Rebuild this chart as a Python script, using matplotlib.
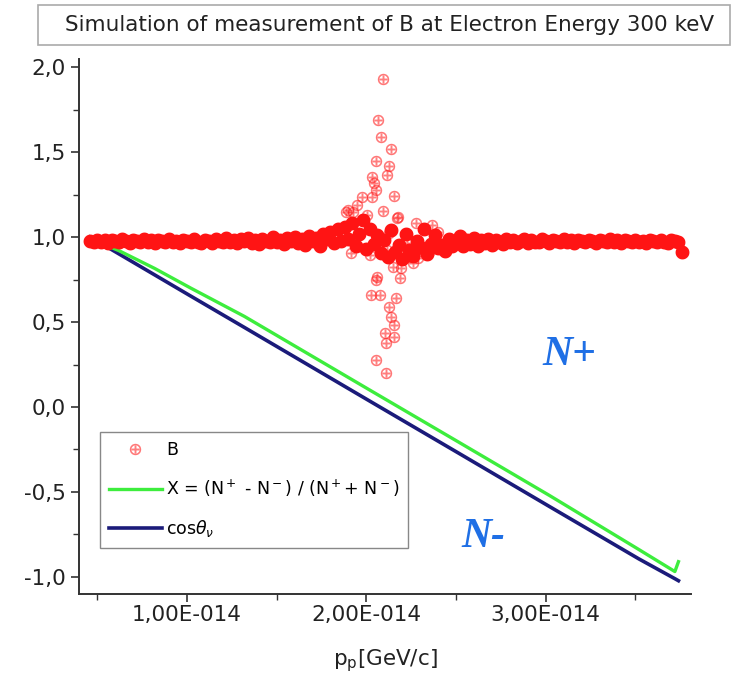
import matplotlib.pyplot as plt
from matplotlib.patches import Rectangle
from matplotlib.ticker import FuncFormatter, FixedLocator, MultipleLocator

# p_p in units of 1e-14 GeV/c
band_x = [
    0.46, 0.48, 0.50, 0.52, 0.54, 0.56, 0.58, 0.60, 0.62, 0.64,
    0.66, 0.68, 0.70, 0.72, 0.74, 0.76, 0.78, 0.80, 0.82, 0.84,
    0.86, 0.88, 0.90, 0.92, 0.94, 0.96, 0.98, 1.00, 1.02, 1.04,
    1.06, 1.08, 1.10, 1.12, 1.14, 1.16, 1.18, 1.20, 1.22, 1.24,
    1.26, 1.28, 1.30, 1.32, 1.34, 1.36, 1.38, 1.40, 1.42, 1.44,
    1.46, 1.48, 1.50, 1.52, 1.54, 1.56, 1.58, 1.60, 1.62, 1.64,
    1.66, 1.68, 1.70, 1.72, 1.74, 1.76, 1.78, 1.80, 1.82, 1.84,
    1.86, 1.88, 1.90, 1.92, 1.94, 1.96, 1.98, 2.00, 2.02, 2.04,
    2.06, 2.08, 2.10, 2.12, 2.14, 2.16, 2.18, 2.20, 2.22, 2.24,
    2.26, 2.28, 2.30, 2.32, 2.34, 2.36, 2.38, 2.40, 2.42, 2.44,
    2.46, 2.48, 2.50, 2.52, 2.54, 2.56, 2.58, 2.60, 2.62, 2.64,
    2.66, 2.68, 2.70, 2.72, 2.74, 2.76, 2.78, 2.80, 2.82, 2.84,
    2.86, 2.88, 2.90, 2.92, 2.94, 2.96, 2.98, 3.00, 3.02, 3.04,
    3.06, 3.08, 3.10, 3.12, 3.14, 3.16, 3.18, 3.20, 3.22, 3.24,
    3.26, 3.28, 3.30, 3.32, 3.34, 3.36, 3.38, 3.40, 3.42, 3.44,
    3.46, 3.48, 3.50, 3.52, 3.54, 3.56, 3.58, 3.60, 3.62, 3.64,
    3.66, 3.68, 3.70, 3.72, 3.74, 3.76,
]
band_B = [
    0.978, 0.968, 0.985, 0.972, 0.980, 0.966, 0.983, 0.975, 0.970, 0.986,
    0.974, 0.965, 0.982, 0.977, 0.969, 0.987, 0.973, 0.980, 0.964, 0.981,
    0.976, 0.968, 0.988, 0.971, 0.979, 0.963, 0.984, 0.974, 0.970, 0.990,
    0.973, 0.966, 0.985, 0.978, 0.962, 0.989, 0.975, 0.969, 0.992, 0.971,
    0.980, 0.963, 0.987, 0.974, 0.995, 0.966, 0.983, 0.960, 0.990, 0.977,
    0.968, 0.998, 0.972, 0.985, 0.958, 0.993, 0.976, 1.002, 0.965, 0.988,
    0.955, 1.006, 0.979, 0.992, 0.950, 1.015, 0.986, 1.030, 0.962, 1.045,
    0.975, 1.060, 0.990, 1.080, 0.945, 1.020, 1.100, 0.930, 1.050, 0.960,
    1.010, 0.905, 0.985, 0.880, 1.040, 0.910, 0.955, 0.870, 1.020, 0.925,
    0.890, 0.975, 0.940, 1.050, 0.900, 0.960, 1.010, 0.935, 0.955, 0.920,
    0.990, 0.945, 0.970, 1.005, 0.950, 0.985, 0.960, 0.995, 0.948, 0.980,
    0.965, 0.990, 0.955, 0.982, 0.970, 0.960, 0.988, 0.972, 0.985, 0.964,
    0.978, 0.990, 0.966, 0.983, 0.972, 0.968, 0.986, 0.975, 0.963, 0.981,
    0.977, 0.969, 0.987, 0.972, 0.980, 0.966, 0.983, 0.975, 0.970, 0.985,
    0.974, 0.965, 0.982, 0.977, 0.969, 0.986, 0.973, 0.980, 0.964, 0.981,
    0.976, 0.968, 0.985, 0.971, 0.979, 0.963, 0.984, 0.974, 0.970, 0.983,
    0.973, 0.966, 0.982, 0.978, 0.968, 0.910,
]

# points scattered around the resonance
peak_x = [2.09, 2.065, 2.08, 2.135, 2.055, 2.125, 2.115, 2.03, 2.045, 2.055,
          1.975, 2.155, 2.03, 1.885, 1.925, 2.095, 2.005, 2.175, 2.275, 2.365,
          2.125, 2.115, 2.02, 1.915, 2.225, 2.15, 2.195, 2.26, 2.29, 2.185,
          2.055, 2.025, 2.075, 2.165, 2.125, 2.135, 2.155, 2.105, 2.155, 2.11,
          2.055, 2.11, 1.90, 2.17, 2.24, 2.057, 1.95, 2.30, 2.40, 2.35]
peak_B = [1.928, 1.688, 1.586, 1.516, 1.449, 1.418, 1.365, 1.355, 1.316, 1.276,
          1.237, 1.243, 1.237, 1.149, 1.145, 1.155, 1.129, 1.12, 1.08, 1.07,
          1.025, 0.924, 0.894, 0.904, 0.963, 0.825, 0.816, 0.845, 0.875, 0.757,
          0.747, 0.659, 0.659, 0.639, 0.586, 0.531, 0.482, 0.433, 0.41, 0.375,
          0.276, 0.202, 1.159, 1.11, 0.884, 0.766, 1.19, 0.92, 1.03, 0.91]

line_x = [0.46, 0.62, 0.82, 1.02, 1.32, 1.62, 2.02, 2.52, 3.02, 3.52, 3.72, 3.74]
cos_theta = [1.0, 0.901, 0.777, 0.653, 0.468, 0.282, 0.034, -0.275, -0.585, -0.894, -1.010, -1.022]
X_ratio = [0.99, 0.92, 0.815, 0.70, 0.533, 0.347, 0.099, -0.21, -0.52, -0.839, -0.968, -0.91]

x_ticks = [1.0, 2.0, 3.0]
x_minor = [0.5, 1.5, 2.5, 3.5]

scale = 1e-14

fig = plt.figure(figsize=(7.4, 6.87), dpi=100)
ax = fig.add_axes([0.1068, 0.1354, 0.827, 0.7794])

red = '#ff1414'
ln_cos, = ax.plot([v * scale for v in line_x], cos_theta, color='#1b1b7a', lw=2.6, zorder=2)
ln_X, = ax.plot([v * scale for v in line_x], X_ratio, color='#3ded3d', lw=2.4, zorder=2)
# the dense band of points along B ~ 1
ax.plot([v * scale for v in band_x], band_B, ls='none',
        marker=r'$\oplus$', ms=8, color=red, mec=red, mew=2.0, zorder=3)
ax.plot([v * scale for v in peak_x], peak_B, ls='none',
        marker=r'$\oplus$', ms=8, color=red, mec=red, mew=0.2, alpha=0.55, zorder=3)
# legend handle only
sc, = ax.plot([], [], ls='none', marker=r'$\oplus$', ms=8, color=red,
              mec=red, mew=0.2, alpha=0.55)

ax.set_xlim(0.398 * scale, 3.81 * scale)
ax.set_ylim(-1.1, 2.05)

ax.xaxis.set_major_locator(FixedLocator([v * scale for v in x_ticks]))
ax.xaxis.set_minor_locator(FixedLocator([v * scale for v in x_minor]))
ax.yaxis.set_major_locator(MultipleLocator(0.5))
ax.yaxis.set_minor_locator(MultipleLocator(0.25))
ax.xaxis.set_major_formatter(FuncFormatter(
    lambda v, p: f"{v / scale:.2f}".replace('.', ',') + "E-014"))
ax.yaxis.set_major_formatter(FuncFormatter(
    lambda v, p: f"{v:.1f}".replace('.', ',')))

for side in ['top', 'right']:
    ax.spines[side].set_visible(False)
for side in ['left', 'bottom']:
    ax.spines[side].set_color('#333333')
    ax.spines[side].set_linewidth(1.4)
ax.tick_params(which='major', direction='out', length=6, width=1.2,
               color='#333333', labelsize=15.5, labelcolor='#222222')
ax.tick_params(axis='x', which='major', pad=2)
ax.tick_params(which='minor', direction='out', length=4, width=1.0, color='#333333')

ax.set_xlabel(r'p$_\mathregular{p}$[GeV/c]', fontsize=15.5, color='#222222', labelpad=16)

leg = ax.legend([sc, ln_X, ln_cos],
                ['B', r'X = (N$^+$ - N$^-$) / (N$^+$+ N$^-$)', r'cos$\theta_\nu$'],
                loc='lower left', bbox_to_anchor=(0.034, 0.086), borderaxespad=0,
                fontsize=12.5, fancybox=False, framealpha=1, edgecolor='#888888',
                handlelength=3.1, handletextpad=0.2, labelspacing=1.1,
                borderpad=0.5, numpoints=1)
leg.get_frame().set_linewidth(1.0)

ax.text(3.13 * scale, 0.306, 'N+', color='#1f6fe5', fontsize=30,
        family='Liberation Serif', weight='bold', style='italic', ha='center', va='center')
ax.text(2.65 * scale, -0.765, 'N-', color='#1f6fe5', fontsize=30,
        family='Liberation Serif', weight='bold', style='italic', ha='center', va='center')

# title in its own box
fig.patches.append(Rectangle((38 / 740, 1 - 45 / 687), 692 / 740, 40 / 687,
                             transform=fig.transFigure, fc='white', ec='#aaaaaa', lw=1.2))
fig.text(0.527, 1 - 25 / 687, 'Simulation of measurement of B at Electron Energy 300 keV',
         fontsize=15.5, color='#222222', ha='center', va='center')

fig.savefig('out.png', dpi=100)
